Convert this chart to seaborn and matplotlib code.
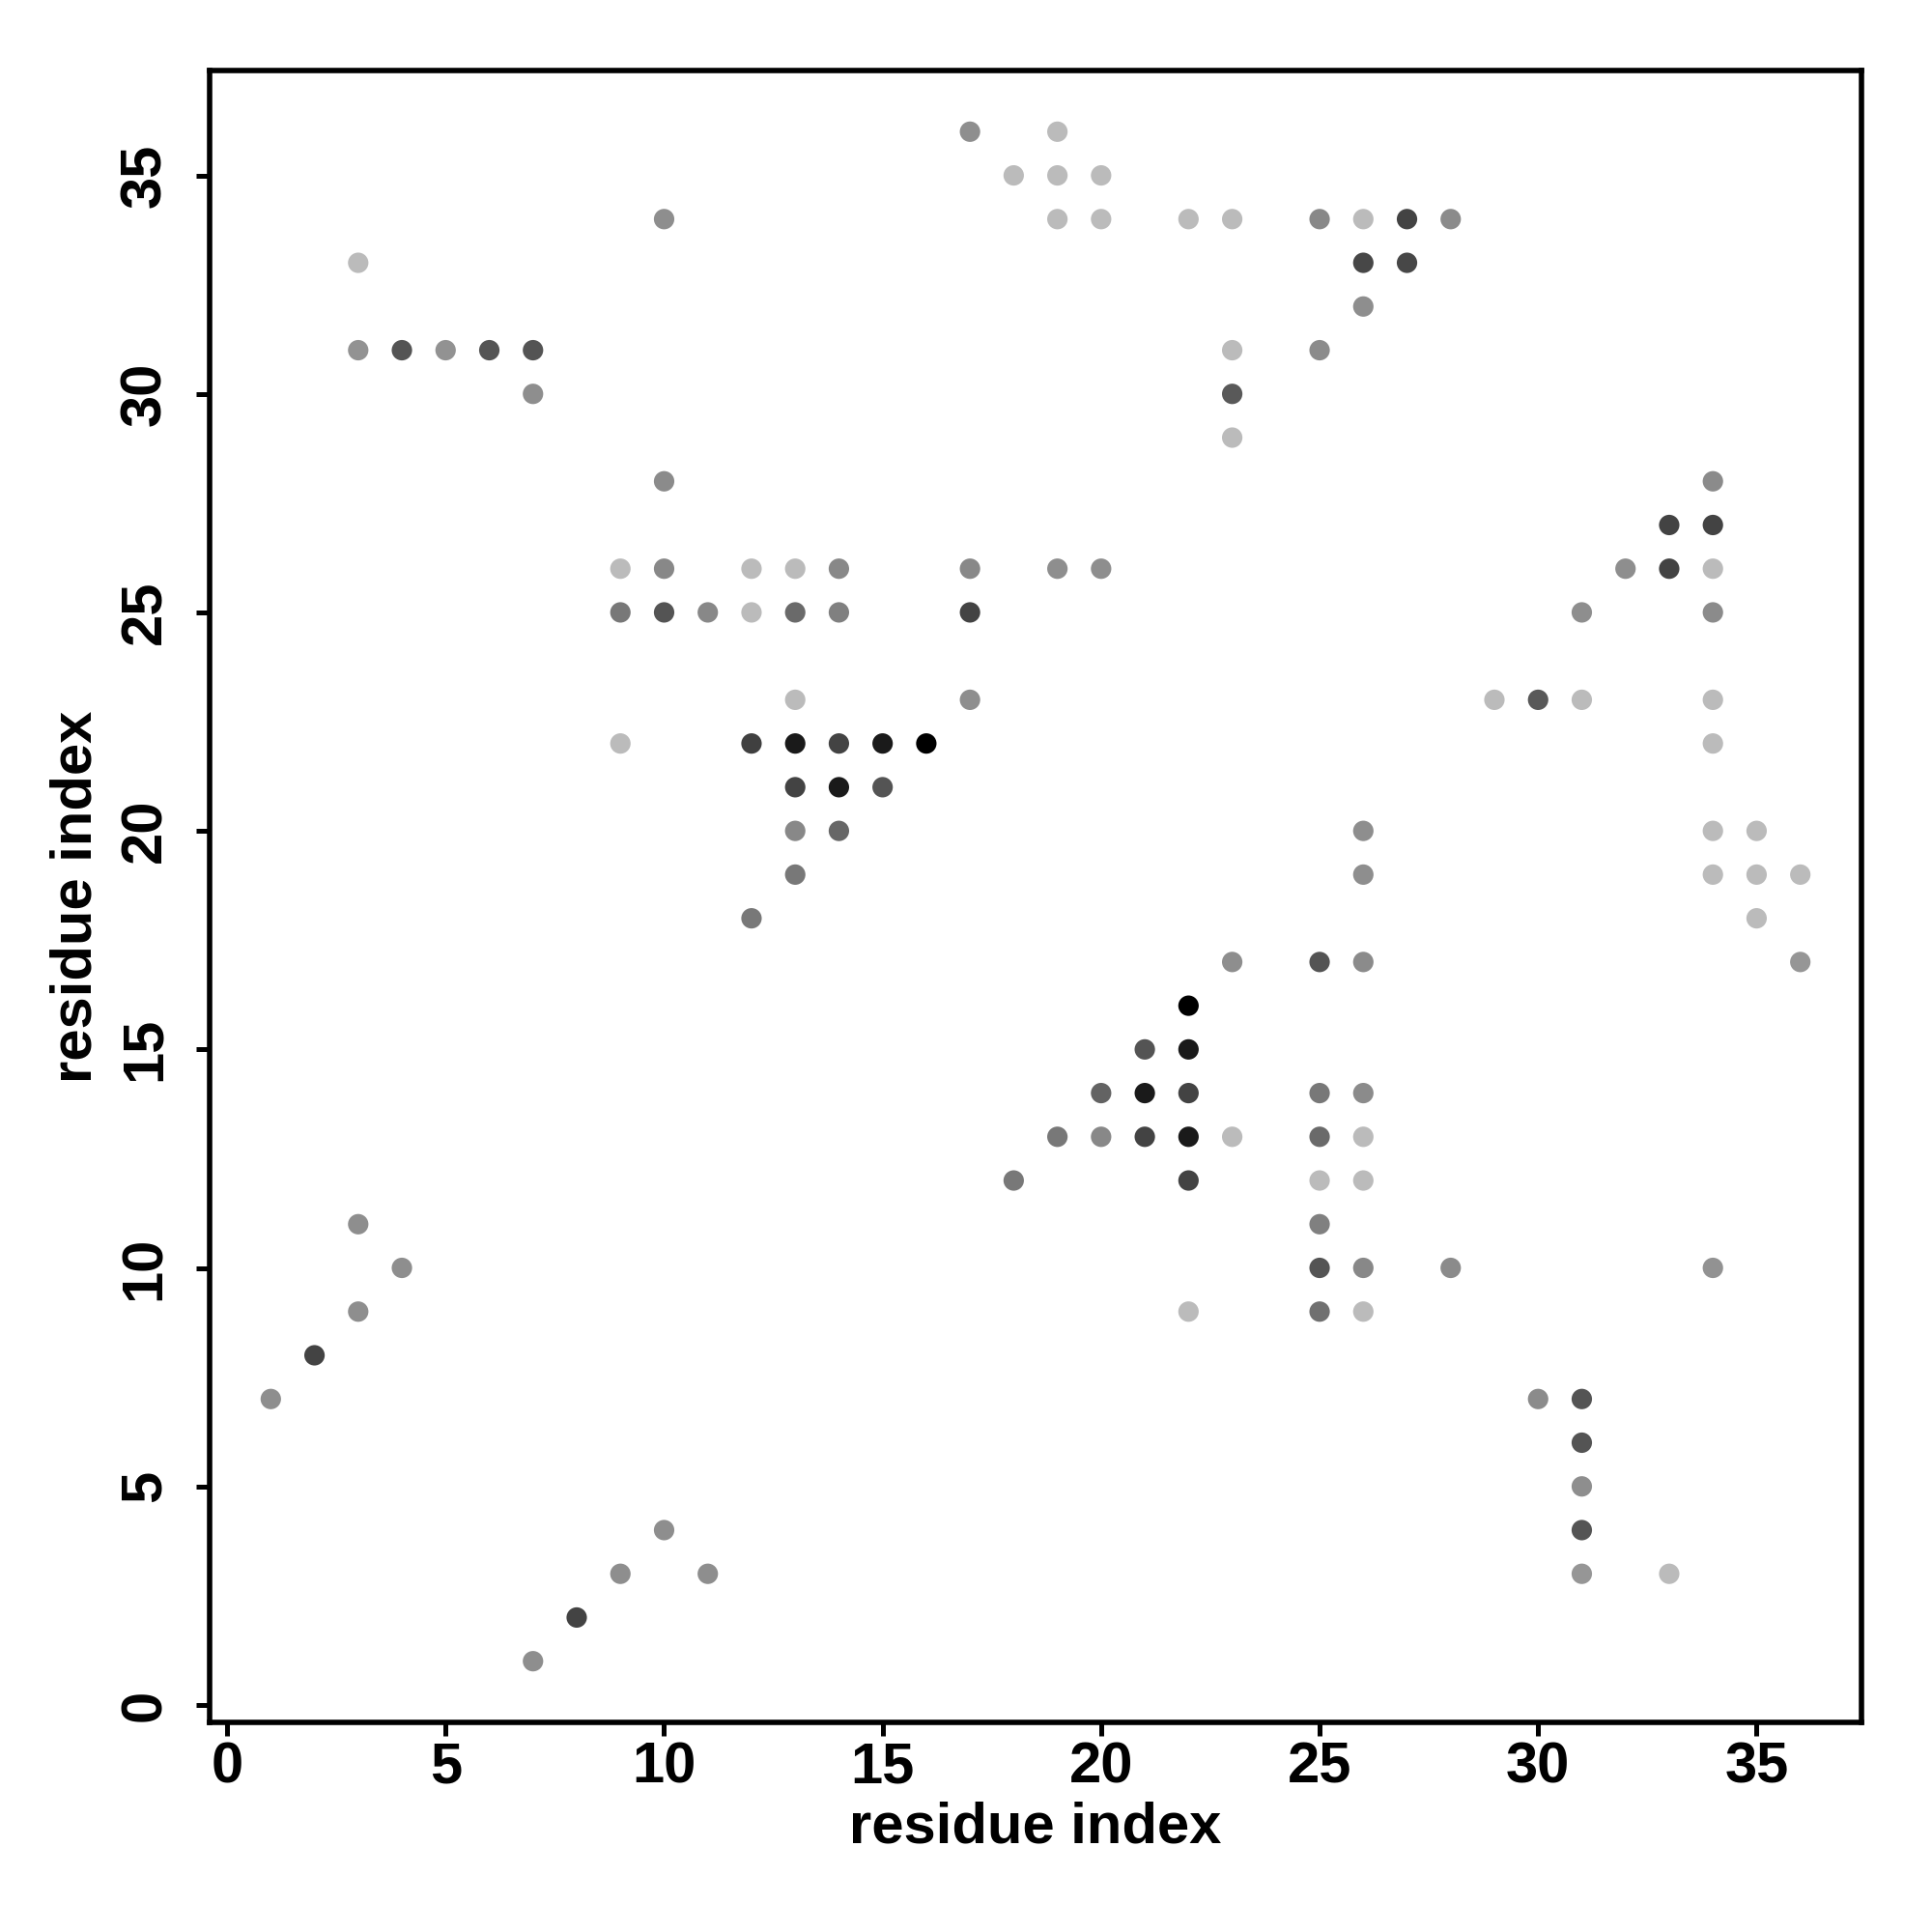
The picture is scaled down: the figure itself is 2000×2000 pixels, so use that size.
import numpy as np
import pandas as pd
import matplotlib
matplotlib.use("Agg")
import matplotlib.pyplot as plt
from matplotlib.colors import LinearSegmentedColormap
import seaborn as sns

# contact map data: residue i, residue j, contact score (0 weak .. 1 strong)
res_i = [17, 19,
         18, 19, 20,
         10, 19, 20, 22, 23, 25, 26, 27, 28,
         3, 26, 27,
         26,
         3, 4, 5, 6, 7, 23, 25,
         7, 23,
         23,
         10, 34,
         33, 34,
         9, 10, 12, 13, 14, 17, 19, 20, 32, 33, 34,
         9, 10, 11, 12, 13, 14, 17, 31, 34,
         13, 17, 29, 30, 31, 34,
         9, 12, 13, 14, 15, 16, 34,
         13, 14, 15,
         13, 14, 26, 34, 35,
         13, 26, 34, 35, 36,
         12, 35,
         23, 25, 26, 36,
         22,
         21, 22,
         20, 21, 22, 25, 26,
         19, 20, 21, 22, 23, 25, 26,
         18, 22, 25, 26,
         3, 25,
         4, 25, 26, 28, 34,
         3, 22, 25, 26,
         2,
         1, 30, 31,
         31,
         31,
         10, 31,
         9, 11, 31, 33,
         8,
         7]
res_j = [36, 36,
         35, 35, 35,
         34, 34, 34, 34, 34, 34, 34, 34, 34,
         33, 33, 33,
         32,
         31, 31, 31, 31, 31, 31, 31,
         30, 30,
         29,
         28, 28,
         27, 27,
         26, 26, 26, 26, 26, 26, 26, 26, 26, 26, 26,
         25, 25, 25, 25, 25, 25, 25, 25, 25,
         23, 23, 23, 23, 23, 23,
         22, 22, 22, 22, 22, 22, 22,
         21, 21, 21,
         20, 20, 20, 20, 20,
         19, 19, 19, 19, 19,
         18, 18,
         17, 17, 17, 17,
         16,
         15, 15,
         14, 14, 14, 14, 14,
         13, 13, 13, 13, 13, 13, 13,
         12, 12, 12, 12,
         11, 11,
         10, 10, 10, 10, 10,
         9, 9, 9, 9,
         8,
         7, 7, 7,
         6,
         5,
         4, 4,
         3, 3, 3, 3,
         2,
         1]
score = [0.24, 0.0,
         0.0, 0.0, 0.0,
         0.24, 0.0, 0.0, 0.0, 0.0, 0.27, 0.0, 0.64, 0.26,
         0.0, 0.62, 0.62,
         0.24,
         0.22, 0.55, 0.22, 0.55, 0.55, 0.0, 0.26,
         0.24, 0.52,
         0.0,
         0.26, 0.26,
         0.64, 0.64,
         0.0, 0.27, 0.0, 0.0, 0.27, 0.27, 0.24, 0.24, 0.24, 0.64, 0.0,
         0.36, 0.55, 0.27, 0.0, 0.43, 0.32, 0.64, 0.24, 0.26,
         0.0, 0.24, 0.0, 0.52, 0.0, 0.0,
         0.0, 0.66, 0.86, 0.64, 0.86, 1.0, 0.0,
         0.64, 0.86, 0.55,
         0.27, 0.45, 0.24, 0.0, 0.0,
         0.36, 0.24, 0.0, 0.0, 0.0,
         0.36, 0.0,
         0.24, 0.55, 0.26, 0.2,
         1.0,
         0.55, 0.86,
         0.47, 0.86, 0.64, 0.36, 0.26,
         0.36, 0.27, 0.64, 0.86, 0.0, 0.43, 0.0,
         0.36, 0.64, 0.0, 0.0,
         0.24, 0.32,
         0.24, 0.55, 0.27, 0.26, 0.22,
         0.24, 0.0, 0.4, 0.0,
         0.64,
         0.24, 0.26, 0.55,
         0.55,
         0.24,
         0.24, 0.55,
         0.24, 0.24, 0.2, 0.0,
         0.64,
         0.24]

tick_vals = [0, 5, 10, 15, 20, 25, 30, 35]
axis_label = "residue index"

df = pd.DataFrame({"i": res_i, "j": res_j, "score": score})

sns.set_style("ticks")
plt.rcParams["font.family"] = ["Liberation Sans", "DejaVu Sans"]
plt.rcParams["font.weight"] = "bold"
plt.rcParams["text.color"] = "black"
plt.rcParams["axes.labelcolor"] = "black"

fig = plt.figure(figsize=(10, 10), dpi=200)
ax = fig.add_axes([0.1085, 0.1085, 0.855, 0.855])

cmap = LinearSegmentedColormap.from_list("greys_r", ["#bbbbbb", "#000000"])
sns.scatterplot(data=df, x="i", y="j", hue="score", palette=cmap,
                hue_norm=(0, 1), s=58, linewidth=0, legend=False, ax=ax)

ax.set_xlim(-0.4, 37.4)
ax.set_ylim(-0.4, 37.4)
ax.set_xticks(tick_vals)
ax.set_yticks(tick_vals)
ax.set_xticklabels([str(t) for t in tick_vals], fontsize=21.5, fontweight="bold",
                   color="black")
ax.set_yticklabels([str(t) for t in tick_vals], fontsize=21.5, fontweight="bold",
                   rotation=90, va="center", color="black")
ax.tick_params(axis="both", direction="out", length=5, width=1.8, colors="black")
ax.tick_params(axis="x", pad=2)
ax.tick_params(axis="y", pad=9)

for sp in ax.spines.values():
    sp.set_visible(True)
    sp.set_linewidth(2.0)
    sp.set_color("black")

ax.set_xlabel(axis_label, fontsize=21.5, fontweight="bold", color="black")
ax.set_ylabel(axis_label, fontsize=21.5, fontweight="bold", color="black")
ax.xaxis.set_label_coords(0.5, -0.0637)
ax.yaxis.set_label_coords(-0.0807, 0.5)
ax.xaxis.label.set_va("center")
ax.yaxis.label.set_va("center")

fig.savefig("out.png", dpi=200, facecolor="white")
